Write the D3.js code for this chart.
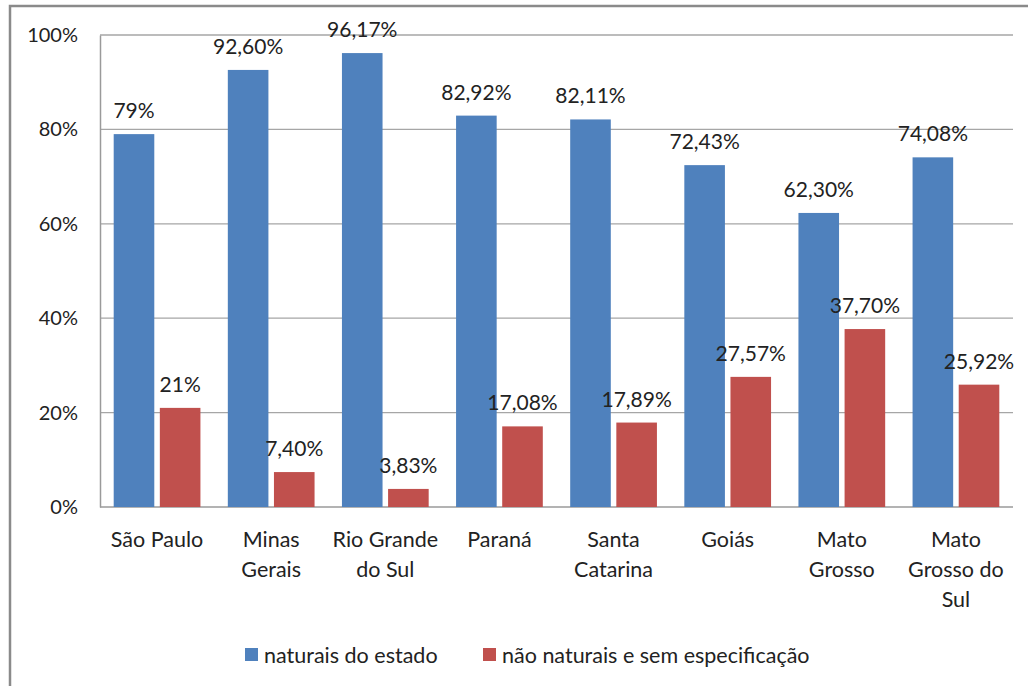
<!DOCTYPE html>
<html>
<head>
<meta charset="utf-8">
<title>Naturais do estado</title>
<script src="https://d3js.org/d3.v7.min.js"></script>
<style>
  body { margin: 0; background: #fff; }
  text { font-family: Lato, "Open Sans", sans-serif; fill: #222; }
</style>
</head>
<body>
<div id="chart"></div>
<script>
// data
var categories = ["São Paulo", "Minas Gerais", "Rio Grande do Sul", "Paraná", "Santa Catarina", "Goiás", "Mato Grosso", "Mato Grosso do Sul"];
var categoryLines = [["São Paulo"], ["Minas", "Gerais"], ["Rio Grande", "do Sul"], ["Paraná"], ["Santa", "Catarina"], ["Goiás"], ["Mato", "Grosso"], ["Mato", "Grosso do", "Sul"]];
var naturais = [79, 92.60, 96.17, 82.92, 82.11, 72.43, 62.30, 74.08];
var naoNaturais = [21, 7.40, 3.83, 17.08, 17.89, 27.57, 37.70, 25.92];
var naturaisLabels = ["79%", "92,60%", "96,17%", "82,92%", "82,11%", "72,43%", "62,30%", "74,08%"];
var naoLabels = ["21%", "7,40%", "3,83%", "17,08%", "17,89%", "27,57%", "37,70%", "25,92%"];
var seriesNames = ["naturais do estado", "não naturais e sem especificação"];
var yTicks = [0, 20, 40, 60, 80, 100];

var colors = ["#4f81bd", "#c0504d"];

var W = 1028, H = 686;
var svg = d3.select("#chart").append("svg")
    .attr("width", W)
    .attr("height", H);

// outer frame
svg.append("rect")
    .attr("x", 10).attr("y", 6)
    .attr("width", 1040).attr("height", 720)
    .attr("fill", "#fff")
    .attr("stroke", "#8a8a8a")
    .attr("stroke-width", 2.5);

var plotLeft = 100, plotRight = 1013, plotTop = 35, plotBottom = 507;

var x = d3.scaleBand()
    .domain(categories)
    .range([plotLeft, plotRight])
    .paddingInner(0.24)
    .paddingOuter(0.12);

var xs = d3.scaleBand()
    .domain([0, 1])
    .range([0, x.bandwidth()])
    .paddingInner(0.12);

var y = d3.scaleLinear()
    .domain([0, 100])
    .range([plotBottom, plotTop]);

// gridlines
svg.append("g")
    .selectAll("line")
    .data(yTicks.filter(function(d) { return d > 0; }))
    .enter().append("line")
    .attr("x1", plotLeft).attr("x2", plotRight)
    .attr("y1", function(d) { return y(d); })
    .attr("y2", function(d) { return y(d); })
    .attr("stroke", "#a6a6a6")
    .attr("stroke-width", 1.3);

// y axis
var yAxis = svg.append("g")
    .attr("transform", "translate(" + plotLeft + ",0)")
    .call(d3.axisLeft(y).tickValues(yTicks).tickSize(0).tickPadding(22)
        .tickFormat(function(d) { return d + "%"; }));
yAxis.select(".domain").attr("stroke", "#9a9a9a").attr("stroke-width", 1.5);
yAxis.selectAll("text").style("font-size", "20px").style("font-family", "Lato, sans-serif").attr("fill", "#222");

// x axis line
svg.append("line")
    .attr("x1", plotLeft).attr("x2", plotRight)
    .attr("y1", plotBottom).attr("y2", plotBottom)
    .attr("stroke", "#9a9a9a").attr("stroke-width", 1.5);

var series = [naturais, naoNaturais];
var labels = [naturaisLabels, naoLabels];

series.forEach(function(vals, s) {
  var g = svg.append("g");
  g.selectAll("rect")
    .data(vals)
    .enter().append("rect")
    .attr("x", function(d, i) { return x(categories[i]) + xs(s); })
    .attr("y", function(d) { return y(d); })
    .attr("width", xs.bandwidth())
    .attr("height", function(d) { return plotBottom - y(d); })
    .attr("fill", colors[s]);
  g.selectAll("text")
    .data(vals)
    .enter().append("text")
    .attr("x", function(d, i) { return x(categories[i]) + xs(s) + xs.bandwidth() / 2; })
    .attr("y", function(d) { return y(d) - 16; })
    .attr("text-anchor", "middle")
    .style("font-size", "21px")
    .text(function(d, i) { return labels[s][i]; });
});

// category labels
var cat = svg.append("g");
categories.forEach(function(c, i) {
  var t = cat.append("text")
    .attr("text-anchor", "middle")
    .style("font-size", "21.5px");
  categoryLines[i].forEach(function(line, j) {
    t.append("tspan")
      .attr("x", x(c) + x.bandwidth() / 2)
      .attr("y", 547 + j * 30)
      .text(line);
  });
});

// legend
var legendX = [245, 483];
seriesNames.forEach(function(name, s) {
  svg.append("rect")
    .attr("x", legendX[s]).attr("y", 648)
    .attr("width", 13).attr("height", 13)
    .attr("fill", colors[s]);
  svg.append("text")
    .attr("x", legendX[s] + 19).attr("y", 663)
    .style("font-size", "21.5px")
    .text(name);
});
</script>
</body>
</html>
